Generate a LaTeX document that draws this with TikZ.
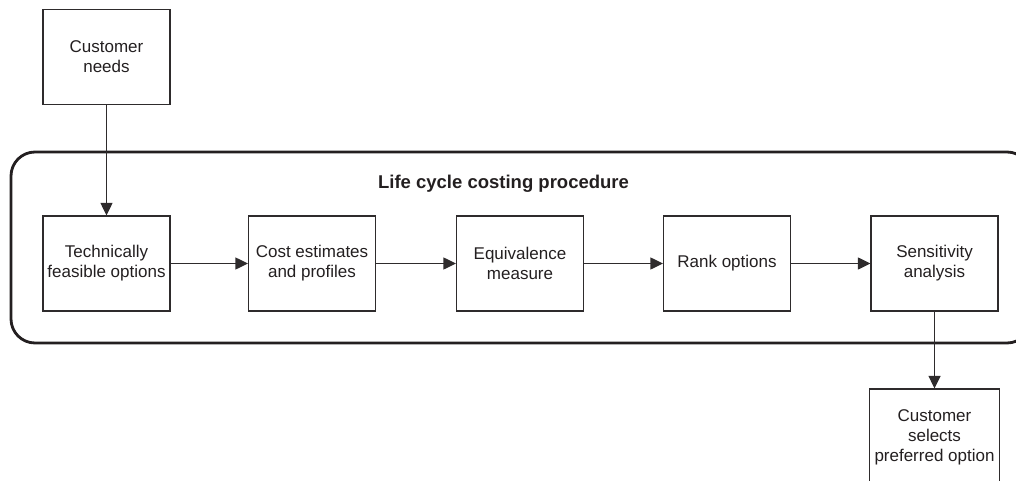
\documentclass[tikz,border=0pt]{standalone}
\usepackage{fontspec}
\setmainfont{Liberation Sans}
\usetikzlibrary{arrows.meta}
\definecolor{ink}{HTML}{231F20}
\definecolor{boxline}{HTML}{2E2B2C}
\begin{document}
\begin{tikzpicture}[x=1pt,y=-1pt,
  stepbox/.style={draw=boxline, line width=1.2pt, minimum width=127pt,
    minimum height=95pt, align=center, inner sep=0pt, text=ink,
    font=\fontsize{17}{20}\selectfont},
  frame/.style={draw=ink, line width=2.8pt, rounded corners=24pt,
    minimum width=1020pt, minimum height=191pt, inner sep=0pt},
  flow/.style={draw=boxline, line width=1.2pt,
    -{Triangle[length=12.5pt,width=12pt]}},
  heading/.style={text=ink, font=\fontsize{18.5}{22}\selectfont\bfseries}
]
% page area
\clip (0,0) rectangle (1016,481);

% enclosing procedure frame
\node[frame] (procedure) at (521,247.5) {};
\node[heading, anchor=base] (title) at (503.5,189) {Life cycle costing procedure};

% input and output boxes
\node[stepbox] (needs) at (106.5,57) {Customer\\needs};
\node[stepbox, minimum width=130pt, minimum height=96pt] (select) at (934.5,437)
  {Customer\\selects\\preferred option};

% procedure steps
\node[stepbox] (tech)  at (106.5,263.5) {Technically\\feasible options};
\node[stepbox] (cost)  at (312,263.5)   {Cost estimates\\and profiles};
\node[stepbox] (equiv) at (520,263.5)   {Equivalence\\measure};
\node[stepbox] (rank)  at (727,263.5)   {Rank options};
\node[stepbox] (sens)  at (934.5,263.5) {Sensitivity\\analysis};

% connectors
\draw[flow] (needs) -- (tech);
\draw[flow] (tech) -- (cost);
\draw[flow] (cost) -- (equiv);
\draw[flow] (equiv) -- (rank);
\draw[flow] (rank) -- (sens);
\draw[flow] (sens) -- (select);
\end{tikzpicture}
\end{document}
